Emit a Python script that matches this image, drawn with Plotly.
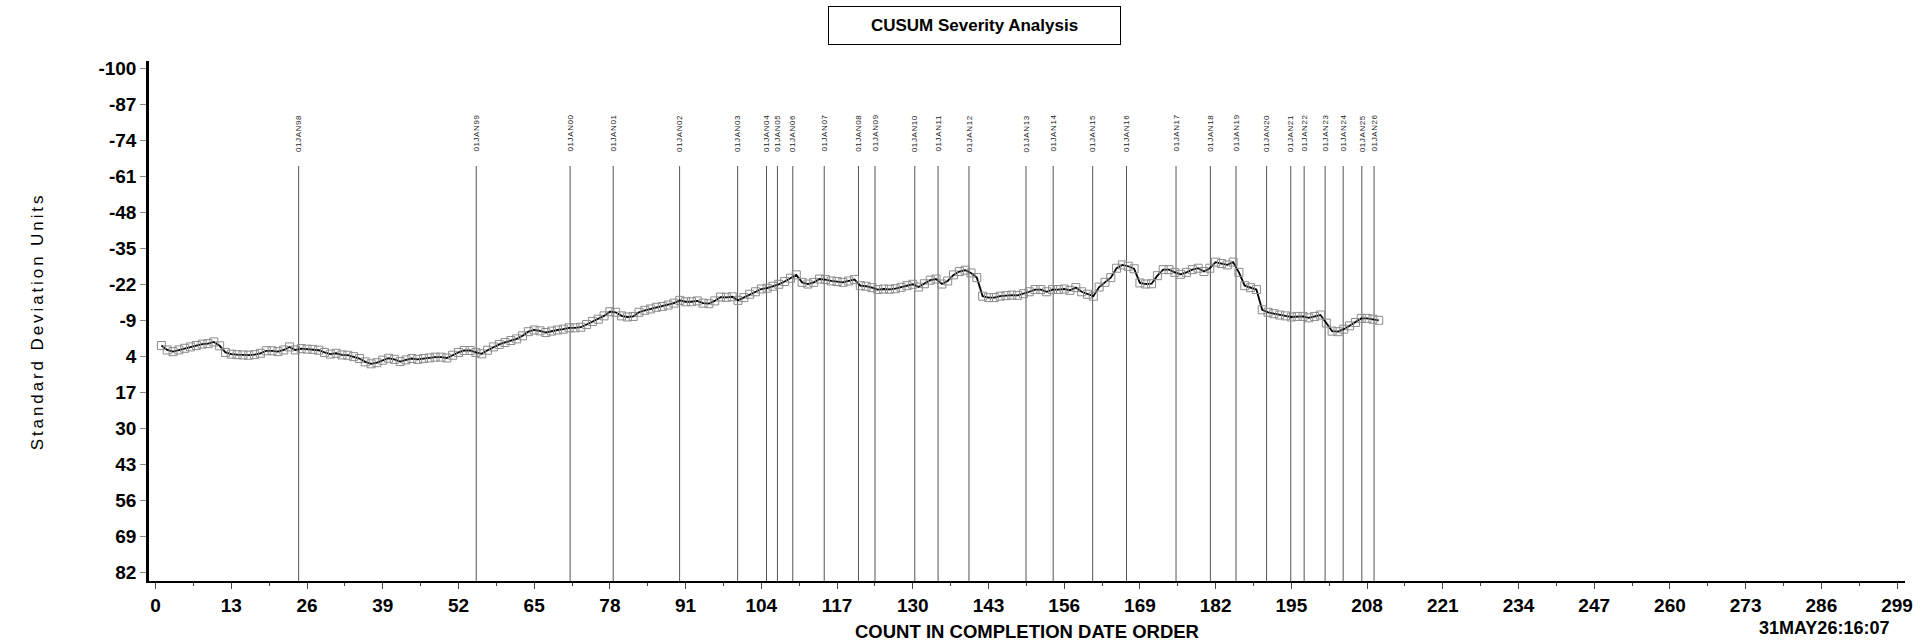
import plotly.graph_objects as go

# ---- data ----
counts = list(range(1, 211))
cusum = [
    0.0, 1.6, 2.2, 1.6, 1.0, 0.5, 0.0, -0.5, -0.7, -1.3,
    0.1, 2.5, 3.1, 3.3, 3.4, 3.5, 3.3, 2.8, 1.9, 1.9,
    2.2, 1.6, 0.5, 1.6, 1.1, 1.3, 1.4, 1.7, 2.5, 3.1,
    2.8, 3.4, 3.5, 4.0, 4.7, 5.9, 6.6, 6.2, 5.3, 4.6,
    5.0, 5.8, 5.2, 4.7, 5.0, 4.7, 4.5, 4.2, 4.2, 4.5,
    3.5, 2.5, 1.8, 1.8, 2.5, 3.0, 1.7, 0.5, -0.4, -1.1,
    -1.8, -2.4, -3.5, -5.0, -5.6, -5.3, -4.7, -5.2, -5.6, -5.9,
    -6.4, -6.4, -6.6, -7.6, -8.7, -9.5, -10.7, -12.2, -12.0, -10.7,
    -10.3, -10.5, -12.0, -12.7, -13.2, -13.8, -14.1, -14.6, -15.3, -16.3,
    -15.8, -15.8, -16.1, -15.3, -15.1, -16.1, -17.5, -17.4, -17.6, -16.3,
    -17.3, -18.5, -19.4, -20.4, -20.7, -21.4, -22.1, -23.1, -24.3, -25.5,
    -22.8, -22.2, -22.8, -24.0, -23.8, -23.3, -23.1, -22.8, -23.3, -23.8,
    -21.6, -21.4, -20.9, -20.2, -20.4, -20.3, -20.5, -21.0, -21.6, -22.1,
    -21.1, -22.3, -23.6, -24.0, -22.2, -23.3, -25.5, -26.7, -27.2, -26.2,
    -24.5, -17.8, -17.3, -17.3, -17.8, -18.0, -18.2, -18.1, -18.7, -19.4,
    -20.2, -20.2, -19.4, -20.2, -20.2, -20.4, -19.9, -20.9, -19.4, -18.5,
    -17.8, -21.1, -22.8, -24.5, -27.9, -29.1, -28.6, -27.7, -22.6, -22.2,
    -22.3, -25.2, -27.4, -27.4, -26.4, -25.7, -26.4, -27.4, -27.9, -26.7,
    -27.9, -30.1, -29.6, -29.1, -30.1, -26.4, -21.6, -20.9, -20.2, -12.9,
    -12.0, -11.5, -11.0, -10.7, -10.3, -10.5, -10.5, -10.0, -10.5, -11.0,
    -8.1, -5.2, -5.0, -5.9, -7.1, -8.3, -9.8, -9.8, -9.5, -9.1,
]

ref_positions = [24.56, 55.05, 71.17, 78.57, 89.97, 99.93, 104.89, 106.77, 109.40,
                 114.80, 120.68, 123.52, 130.35, 134.35, 139.65, 149.44, 154.11,
                 160.89, 166.70, 175.2, 181.1, 185.5, 190.75, 194.9, 197.2,
                 200.8, 203.9, 207.1, 209.2]
ref_labels = ["01JAN98", "01JAN99", "01JAN00", "01JAN01", "01JAN02", "01JAN03",
              "01JAN04", "01JAN05", "01JAN06", "01JAN07", "01JAN08", "01JAN09",
              "01JAN10", "01JAN11", "01JAN12", "01JAN13", "01JAN14", "01JAN15",
              "01JAN16", "01JAN17", "01JAN18", "01JAN19", "01JAN20", "01JAN21",
              "01JAN22", "01JAN23", "01JAN24", "01JAN25", "01JAN26"]

x_ticks = list(range(0, 300, 13))
y_ticks = list(range(-100, 83, 13))

title_text = "CUSUM Severity Analysis"
x_title = "COUNT IN COMPLETION DATE ORDER"
y_title = "Standard Deviation Units"
stamp = "31MAY26:16:07"

FONT = "Liberation Sans, Arial, sans-serif"

fig = go.Figure()
fig.add_trace(go.Scatter(
    x=counts, y=cusum, mode="lines+markers",
    line=dict(color="black", width=1.8),
    marker=dict(symbol="square-open", size=8, color="#8c8c8c", line=dict(width=1, color="#8c8c8c")),
    showlegend=False, hoverinfo="skip",
))

Y_TOP = -64.8
for xv, lab in zip(ref_positions, ref_labels):
    fig.add_shape(type="line", xref="x", yref="y", x0=xv, x1=xv, y0=Y_TOP, y1=85.0,
                  line=dict(color="#555555", width=1), layer="below")
    fig.add_annotation(x=xv, y=-76.6, xref="x", yref="y", text=lab, textangle=-90,
                       xanchor="center", yanchor="middle",
                       showarrow=False, font=dict(family=FONT, size=8, color="#222"))

# title box
fig.add_annotation(x=0.4702, y=1.0683, xref="paper", yref="paper", text="<b>" + title_text + "</b>",
                   xanchor="center", yanchor="middle",
                   showarrow=False, font=dict(family=FONT, size=17, color="black"),
                   bordercolor="black", borderwidth=1, width=289, height=35, bgcolor="white")
# y title
fig.add_annotation(x=-0.0635, y=0.5, xref="paper", yref="paper", text=y_title, textangle=-90,
                   xanchor="center", yanchor="middle",
                   showarrow=False, font=dict(family=FONT, size=17, color="black"))
# x title
fig.add_annotation(x=0.5, y=-0.098, xref="paper", yref="paper", text="<b>" + x_title + "</b>",
                   xanchor="center", yanchor="middle",
                   showarrow=False, font=dict(family=FONT, size=18.5, color="black"))
# timestamp
fig.add_annotation(x=0.9155, y=-0.091, xref="paper", yref="paper", text="<b>" + stamp + "</b>",
                   xanchor="left", yanchor="middle", showarrow=False,
                   font=dict(family=FONT, size=18, color="black"))

fig.update_layout(
    width=1921, height=641,
    margin=dict(l=149, r=8, t=61, b=60),
    plot_bgcolor="white", paper_bgcolor="white",
    font=dict(family=FONT, color="black"),
    xaxis=dict(range=[-1.13, 300.36], tickvals=x_ticks, ticktext=[str(v) for v in x_ticks],
               showgrid=False, zeroline=False, showline=True, linecolor="black", linewidth=2,
               ticks="outside", ticklen=6, tickcolor="#444", tickwidth=1,
               tickfont=dict(family=FONT, size=19, weight="bold"),
               minor=dict(tick0=0, dtick=6.5, ticks="outside", ticklen=3, tickcolor="#444", showgrid=False)),
    yaxis=dict(range=[85.0, -102.7], tickvals=y_ticks, ticktext=[str(v) for v in y_ticks],
               showgrid=False, zeroline=False, showline=True, linecolor="black", linewidth=2.5,
               ticks="outside", ticklen=6, tickcolor="#888", tickwidth=1,
               tickfont=dict(family=FONT, size=19, weight="bold")),
)

post = """
(function(){
  function fix(){
    document.documentElement.style.margin='0';
    document.body.style.margin='0';
    document.body.style.overflow='hidden';
    var els = document.querySelectorAll('.annotation-text');
    els.forEach(function(t){
      if (t.textContent === 'Standard Deviation Units') { t.style.letterSpacing = '2.9px'; }
      else if (/^01JAN/.test(t.textContent)) { t.style.letterSpacing = '0.6px'; }
    });
  }
  fix(); setTimeout(fix, 50); setTimeout(fix, 300);
})();
"""

fig.write_html("out.html", post_script=post, config={"displayModeBar": False})
